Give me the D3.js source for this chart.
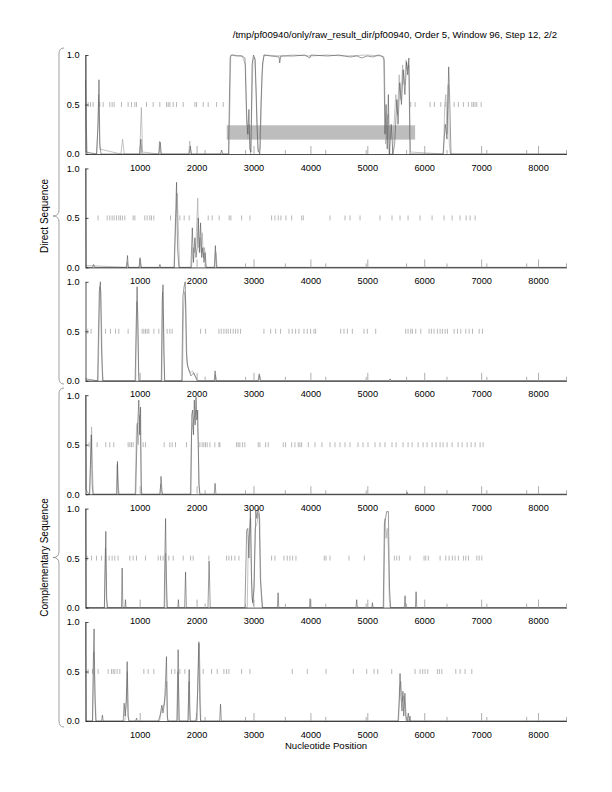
<!DOCTYPE html>
<html>
<head>
<meta charset="utf-8">
<script src="https://cdn.jsdelivr.net/npm/d3@7"></script>
<style>
  body { margin: 0; background: #fff; }
  svg { font-family: "Liberation Sans", Arial, Helvetica, sans-serif; }
</style>
</head>
<body>
<svg id="chart" width="612" height="792"></svg>
<script>
const TITLE = '/tmp/pf00940/only/raw_result_dir/pf00940, Order 5, Window 96, Step 12, 2/2';
const X_LABEL = 'Nucleotide Position';
const GROUP_LABELS = ['Direct Sequence', 'Complementary Sequence'];
const X_DOMAIN = [48, 8500];
const X_TICKS = [1000, 2000, 3000, 4000, 5000, 6000, 7000, 8000];
const X_MINOR = [2150, 2860, 3560, 4270, 4980, 5690, 6400, 7100, 7800, 8500];
const Y_TICKS = [0, 0.5, 1];
const HIGHLIGHT = { from: 2530, to: 5840, low: 0.145, high: 0.29 };

// frame 1..3 direct, 4..6 complementary; dark = first curve, light = second
const dark1 = [[48,1],[58,0.02],[240,0],[270,0.3],[285,0.75],[300,0.1],[320,0],[1000,0],[1020,0.15],[1040,0],[1340,0],[1360,0.12],[1380,0],[1870,0],[1890,0.08],[1910,0],[2420,0],[2440,0.04],[2460,0],[2560,0],[2590,0.98],[2620,1],[2700,0.99],[2800,0.99],[2850,0.97],[2880,0.4],[2900,0.2],[2920,0.45],[2935,0.05],[2955,0.02],[2975,0.9],[3000,1],[3030,0.95],[3060,0.3],[3080,0.05],[3110,0],[3130,0.5],[3160,0.92],[3190,1],[3300,0.99],[3450,0.98],[3460,0.92],[3480,0.99],[3700,0.99],[3900,1],[3990,0.97],[4010,1],[4300,0.99],[4500,1],[4700,0.98],[4820,0.99],[4900,0.97],[5000,0.99],[5100,0.98],[5200,1],[5290,0.98],[5310,0.2],[5330,0.5],[5350,0.05],[5370,0.6],[5390,0],[5420,0.3],[5450,0],[5480,0.1],[5520,0.55],[5540,0.3],[5570,0.72],[5600,0.5],[5630,0.85],[5660,0.6],[5690,0.93],[5710,0.8],[5730,0.97],[5750,0],[5760,0],[6330,0],[6370,0.3],[6400,0.15],[6430,0.88],[6450,0.5],[6470,0],[8500,0]];
const light1 = [[48,0.75],[60,0.3],[80,0],[250,0],[280,0.6],[300,0.05],[670,0],[700,0.15],[730,0],[1000,0],[1030,0.47],[1050,0.02],[1330,0],[1350,0.13],[1370,0],[1860,0],[1880,0.13],[1900,0],[2570,0],[2600,1],[2650,1],[2800,0.99],[2860,0.9],[2880,0.25],[2900,0.15],[2920,0.3],[2950,0],[2990,0.95],[3020,0.98],[3050,0.6],[3080,0.02],[3120,0.05],[3150,0.8],[3180,1],[3500,0.99],[3700,1],[4000,0.99],[4300,1],[4600,0.99],[5000,1],[5250,0.99],[5300,0.95],[5320,0.1],[5360,0.4],[5380,0],[5440,0],[5470,0.3],[5500,0.6],[5530,0.4],[5560,0.8],[5590,0.55],[5620,0.9],[5650,0.7],[5680,0.95],[5710,0.85],[5730,0.9],[5760,0.02],[6340,0],[6360,0.5],[6380,0.6],[6400,0.2],[6420,0.7],[6440,0.1],[6460,0],[8500,0]];
const dark2 = [[48,1],[58,0],[170,0],[190,0.03],[210,0],[770,0],[786,0.12],[800,0],[990,0],[1005,0.09],[1025,0],[1340,0],[1355,0.03],[1370,0],[1610,0],[1630,0.5],[1648,0.86],[1665,0.2],[1690,0],[1900,0],[1925,0.4],[1945,0.05],[1970,0.3],[1990,0.1],[2010,0.2],[2030,0.5],[2050,0.15],[2070,0.45],[2090,0.1],[2110,0.2],[2130,0.05],[2150,0.15],[2170,0],[2310,0],[2330,0.22],[2350,0],[8500,0]];
const light2 = [[48,0.02],[760,0],[780,0.05],[800,0],[990,0],[1010,0.1],[1030,0],[1600,0],[1630,0.4],[1660,0.75],[1685,0.3],[1700,0],[1910,0],[1940,0.2],[1960,0.15],[1990,0.25],[2020,0.7],[2040,0.2],[2060,0.3],[2080,0.15],[2100,0.35],[2120,0.1],[2140,0.2],[2160,0],[2320,0],[2340,0.15],[2360,0],[8500,0]];
const dark3 = [[48,0.02],[260,0],[290,0.9],[310,1],[330,0.3],[350,0],[920,0],[940,0.6],[955,0.95],[970,0.5],[985,0],[1380,0],[1395,0.8],[1410,0.97],[1425,0.3],[1440,0],[1740,0],[1760,0.85],[1780,0.95],[1800,1],[1820,0.3],[1840,0.15],[1870,0.1],[1900,0.05],[1950,0.08],[2000,0.02],[2020,0],[2310,0],[2325,0.1],[2340,0],[3080,0],[3100,0.07],[3120,0],[5380,0],[5400,0.02],[5420,0],[8500,0]];
const light3 = [[48,0],[270,0],[300,0.95],[320,0.9],[345,0.1],[360,0],[930,0],[950,0.8],[965,0.7],[980,0.1],[995,0],[1390,0],[1405,0.9],[1420,0.6],[1435,0],[1750,0],[1770,0.7],[1790,0.9],[1810,0.8],[1830,0.2],[1860,0.12],[1890,0.08],[1930,0.1],[1960,0.06],[1990,0.03],[2010,0],[2320,0],[2335,0.06],[2350,0],[3090,0],[3110,0.05],[3130,0],[8500,0]];
const dark4 = [[48,1],[58,0.05],[80,0.02],[120,0],[135,0.3],[150,0.6],[165,0.1],[180,0],[600,0],[610,0.33],[625,0],[930,0],[950,0.5],[965,0.7],[985,0.95],[1000,0.6],[1015,0.88],[1030,0],[1360,0],[1375,0.18],[1390,0.05],[1400,0],[1900,0],[1915,0.8],[1930,0.85],[1945,0.6],[1960,0.95],[1975,0.7],[1990,0.98],[2005,0.75],[2020,0.85],[2040,0.1],[2060,0],[2310,0],[2325,0.11],[2340,0],[5690,0],[5700,0.02],[5710,0],[8500,0]];
const light4 = [[48,0],[120,0],[140,0.4],[155,0.68],[170,0.25],[185,0],[590,0],[605,0.3],[620,0.1],[640,0],[920,0],[945,0.7],[960,0.72],[975,0.5],[995,0.8],[1010,0.7],[1025,0.1],[1040,0],[1350,0],[1370,0.1],[1390,0],[1890,0],[1910,0.6],[1930,0.7],[1950,0.75],[1970,0.8],[1990,0.85],[2010,0.8],[2030,0.5],[2050,0],[8500,0]];
const dark5 = [[48,1],[58,0],[380,0],[395,0.5],[405,0.77],[420,0.1],[435,0],[680,0],[692,0.4],[705,0],[740,0],[750,0.08],[760,0],[1430,0],[1445,0.6],[1455,0.9],[1470,0.3],[1485,0],[1670,0],[1680,0.08],[1690,0],[1790,0],[1806,0.36],[1820,0],[2200,0],[2220,0.47],[2240,0],[2850,0],[2880,0.78],[2900,0.8],[2920,0.5],[2945,1],[2965,0.3],[2985,0.05],[3010,0.2],[3040,0.98],[3060,0.9],[3080,1],[3100,0.95],[3120,0.3],[3140,0.15],[3160,0],[3420,0],[3432,0.15],[3445,0],[3985,0],[3995,0.09],[4005,0],[4800,0],[4813,0.08],[4825,0],[5080,0],[5090,0.05],[5100,0],[5280,0],[5300,0.85],[5320,0.9],[5340,0.97],[5370,0.97],[5390,0.2],[5410,0],[5650,0],[5663,0.12],[5675,0],[5845,0],[5857,0.16],[5870,0],[8500,0]];
const light5 = [[48,0],[380,0],[400,0.6],[415,0.1],[430,0],[1440,0],[1455,0.55],[1470,0.1],[1480,0],[2890,0],[2910,0.7],[2930,0.75],[2950,0.9],[2970,0.1],[3000,0.02],[3030,0.8],[3060,0.85],[3090,0.95],[3110,0.9],[3130,0.2],[3150,0],[5290,0],[5310,0.9],[5330,0.7],[5350,0.8],[5370,0.6],[5385,0.1],[5400,0],[8500,0]];
const dark6 = [[48,1],[58,0],[170,0],[185,0.6],[199,0.93],[215,0.2],[230,0],[330,0],[345,0.06],[360,0],[710,0],[727,0.18],[745,0.05],[765,0.2],[780,0.6],[795,0.05],[810,0],[930,0],[945,0.03],[960,0],[1330,0],[1360,0.06],[1390,0.16],[1410,0.08],[1440,0.2],[1471,0.65],[1485,0.05],[1500,0],[1660,0],[1676,0.72],[1690,0],[1850,0],[1870,0.52],[1885,0],[1990,0],[2010,0.1],[2025,0.5],[2040,0.8],[2055,0.2],[2070,0],[2405,0],[2421,0.17],[2435,0],[5540,0],[5560,0.2],[5575,0.48],[5590,0.25],[5610,0.1],[5625,0.3],[5640,0.05],[5660,0.28],[5680,0.05],[5700,0],[5720,0.08],[5735,0],[5750,0.05],[5760,0],[8500,0]];
const light6 = [[48,0],[175,0],[195,0.7],[215,0.3],[235,0],[740,0],[760,0.15],[785,0.5],[800,0.05],[815,0],[1350,0],[1380,0.1],[1420,0.15],[1460,0.3],[1475,0.4],[1490,0],[1650,0],[1670,0.5],[1685,0.3],[1700,0],[1850,0],[1865,0.4],[1880,0.1],[1895,0],[1990,0],[2020,0.3],[2045,0.78],[2060,0.5],[2075,0],[5550,0],[5570,0.35],[5590,0.4],[5610,0.2],[5640,0.25],[5660,0.15],[5680,0],[8500,0]];

// positions of the short marks drawn across the 0.5 line
const marks1 = [94,135,182,299,358,475,516,551,680,797,856,915,944,1120,1237,1354,1471,1501,1530,1589,1647,1765,1970,2000,2116,2204,2351,2468,5763,5839,6103,6179,6291,6379,6525,6600,6688,6776,6836,6864,6894,6924,7000];
const marks2 = [269,428,475,516,551,592,633,662,697,739,885,915,1090,1131,1178,1208,1249,1542,1706,1782,1870,2204,2274,2397,2573,2603,2791,2937,3318,3377,3435,3482,3570,3670,3846,3875,4344,4608,4696,4872,5223,5434,5575,5716,5927,6138,6349,6490,6630,6736,6806,6894];
const marks3 = [88,146,399,487,575,633,797,1043,1073,1102,1131,1161,1249,1337,1483,1530,1571,2070,2158,2392,2433,2480,2521,2556,2597,2644,2685,2726,2773,3183,3301,3389,3476,3623,3681,3740,3799,3887,3945,4004,4063,4092,4532,4590,4649,4737,4942,5000,5147,5675,5716,5763,5792,5851,5939,6085,6126,6173,6232,6279,6320,6367,6408,6525,6584,6642,6730,6789,6848,6965,7023];
const marks4 = [111,252,404,475,545,797,827,856,885,1061,1102,1430,1530,1571,1630,1823,2058,2098,2128,2157,2186,2234,2321,2392,2409,2703,2732,2761,2808,2849,3083,3113,3213,3259,3523,3564,3670,3728,3786,3816,3846,3963,4080,4203,4344,4432,4520,4608,4696,4836,4924,5012,5135,5223,5311,5434,5505,5628,5716,5786,5892,5980,6050,6138,6208,6279,6331,6402,6490,6595,6666,6754,6824,6894,6982,7035];
const marks5 = [76,153,241,329,404,463,516,563,621,827,885,944,1102,1325,1366,1412,1512,1589,1765,1894,1940,2216,2527,2568,2615,2673,2744,3318,3377,3535,3593,3640,3687,3746,4244,4274,4344,4678,4948,5475,5517,5563,5751,5997,6027,6073,6279,6379,6437,6495,6542,6601,6689,6730,6777,6924,6965,7012];
const marks6 = [94,170,270,446,504,534,563,604,651,1073,1149,1249,1559,1618,1706,1794,2116,2263,2362,2480,2527,2568,2791,2937,3681,3945,4274,4754,4989,5118,5183,5429,5839,5927,5974,6015,6062,6231,6266,6309,6555,6630,6718,6836];

const frames = [
  { dark: dark1, light: light1, marks: marks1, highlight: true },
  { dark: dark2, light: light2, marks: marks2 },
  { dark: dark3, light: light3, marks: marks3 },
  { dark: dark4, light: light4, marks: marks4 },
  { dark: dark5, light: light5, marks: marks5 },
  { dark: dark6, light: light6, marks: marks6 }
];

const svg = d3.select('#chart');
const left = 85.5, right = 566.5;
const firstTop = 55, pitch = 113.4, panelH = 99;

const x = d3.scaleLinear().domain(X_DOMAIN).range([left, right]);

svg.append('text')
  .attr('x', 557).attr('y', 38)
  .attr('text-anchor', 'end')
  .attr('font-size', 9.6)
  .text(TITLE);

frames.forEach(function (f, i) {
  const top = firstTop + i * pitch;
  const y = d3.scaleLinear().domain([0, 1]).range([top + panelH, top]);
  const g = svg.append('g');

  if (f.highlight) {
    g.append('rect')
      .attr('x', x(HIGHLIGHT.from))
      .attr('y', y(HIGHLIGHT.high))
      .attr('width', x(HIGHLIGHT.to) - x(HIGHLIGHT.from))
      .attr('height', y(HIGHLIGHT.low) - y(HIGHLIGHT.high))
      .attr('fill', '#bdbdbd');
  }

  g.selectAll('line.mark')
    .data(f.marks)
    .enter().append('line')
    .attr('class', 'mark')
    .attr('x1', d => x(d)).attr('x2', d => x(d))
    .attr('y1', y(0.475)).attr('y2', y(0.525))
    .attr('stroke', '#9a9a9a')
    .attr('stroke-width', 0.7);

  const line = d3.line().x(d => x(d[0])).y(d => y(d[1]));

  g.append('path')
    .attr('d', line(f.light))
    .attr('fill', 'none')
    .attr('stroke', '#ababab')
    .attr('stroke-width', 0.7);

  g.append('path')
    .attr('d', line(f.dark))
    .attr('fill', 'none')
    .attr('stroke', '#484848')
    .attr('stroke-width', 0.55);

  // axes: ticks drawn inwards like the original plot
  const xAxis = d3.axisBottom(x).tickValues(X_TICKS).tickFormat(d3.format('d'))
    .tickSizeInner(-8).tickSizeOuter(0).tickPadding(10);
  const ax = g.append('g').attr('transform', 'translate(0,' + (top + panelH) + ')').call(xAxis);
  ax.select('.domain').attr('stroke', '#222').attr('stroke-width', 0.8);
  ax.selectAll('.tick line').attr('stroke', '#999').attr('stroke-width', 0.8);
  ax.selectAll('.tick text').attr('font-size', 9.2).attr('fill', '#000').attr('font-family', null);

  g.selectAll('line.minor')
    .data(X_MINOR)
    .enter().append('line')
    .attr('class', 'minor')
    .attr('x1', d => x(d)).attr('x2', d => x(d))
    .attr('y1', top + panelH).attr('y2', top + panelH - 4)
    .attr('stroke', '#999')
    .attr('stroke-width', 0.8);

  const yAxis = d3.axisLeft(y).tickValues(Y_TICKS).tickFormat(d3.format('.1f'))
    .tickSizeInner(-3).tickSizeOuter(0).tickPadding(6);
  const ay = g.append('g').attr('transform', 'translate(' + left + ',0)').call(yAxis);
  ay.select('.domain').attr('stroke', '#222').attr('stroke-width', 0.8);
  ay.selectAll('.tick line').attr('stroke', '#222').attr('stroke-width', 0.8);
  ay.selectAll('.tick text').attr('font-size', 9.2).attr('fill', '#000').attr('font-family', null);
});

// curly braces grouping the frames
function brace (y0, y1) {
  const xl = 59, xr = 64, xt = 53, m = (y0 + y1) / 2;
  return 'M' + xr + ',' + y0 +
    ' Q' + xl + ',' + y0 + ' ' + xl + ',' + (y0 + 6) +
    ' L' + xl + ',' + (m - 6) +
    ' Q' + xl + ',' + m + ' ' + xt + ',' + m +
    ' Q' + xl + ',' + m + ' ' + xl + ',' + (m + 6) +
    ' L' + xl + ',' + (y1 - 6) +
    ' Q' + xl + ',' + y1 + ' ' + xr + ',' + y1;
}

const groups = [[48, 384], [388, 727]];
groups.forEach(function (gr, i) {
  svg.append('path')
    .attr('d', brace(gr[0], gr[1]))
    .attr('fill', 'none')
    .attr('stroke', '#888')
    .attr('stroke-width', 0.8);
  const m = (gr[0] + gr[1]) / 2;
  svg.append('text')
    .attr('transform', 'translate(48,' + m + ') rotate(-90)')
    .attr('text-anchor', 'middle')
    .attr('font-size', 10)
    .text(GROUP_LABELS[i]);
});

svg.append('text')
  .attr('x', 326).attr('y', 749)
  .attr('text-anchor', 'middle')
  .attr('font-size', 9.6)
  .text(X_LABEL);
</script>
</body>
</html>
